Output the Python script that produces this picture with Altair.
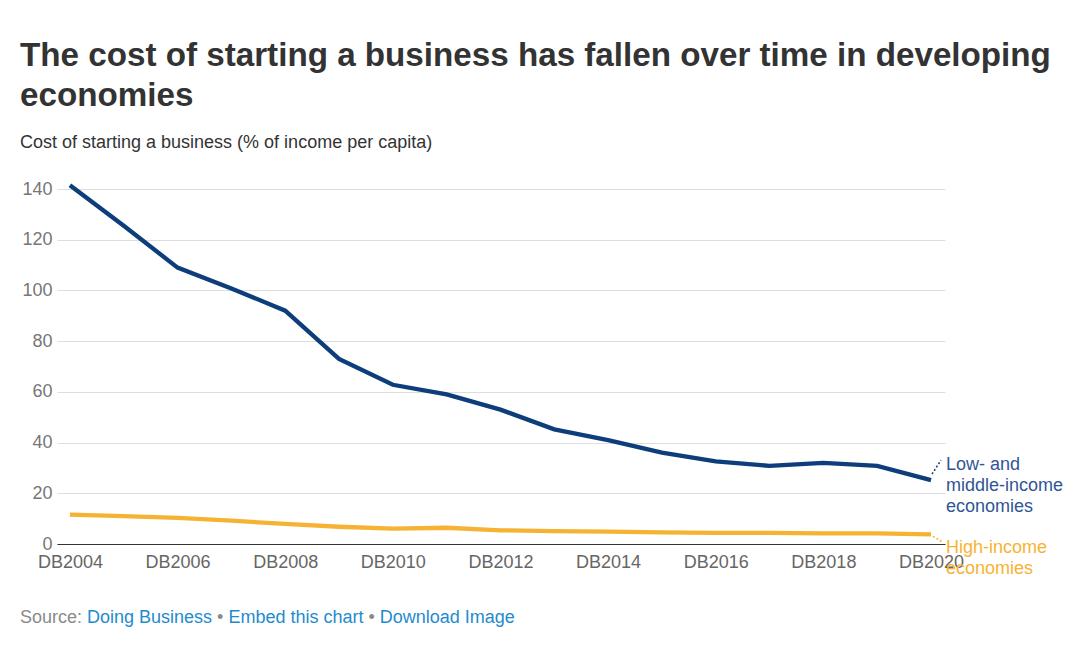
import altair as alt
import pandas as pd

years = list(range(2004, 2021))
low_middle = [141.5, 125.5, 109.0, 100.8, 92.0, 73.0, 62.8, 59.0, 53.0, 45.2, 41.0, 36.0, 32.6, 30.8, 32.0, 30.8, 25.2]
high_income = [11.6, 11.0, 10.3, 9.2, 7.9, 6.8, 6.1, 6.4, 5.4, 5.1, 4.9, 4.6, 4.4, 4.4, 4.2, 4.2, 3.8]
series_names = ["Low- and middle-income economies", "High-income economies"]
tick_years = [2004, 2006, 2008, 2010, 2012, 2014, 2016, 2018, 2020]
y_ticks = [0, 20, 40, 60, 80, 100, 120, 140]

title_lines = ["The cost of starting a business has fallen over time in developing", "economies"]
subtitle = "Cost of starting a business (% of income per capita)"

BLUE = "#0d3d7a"
BLUE_TXT = "#2f5597"
YELLOW = "#f6b333"
FONT = "Liberation Sans"

df = pd.DataFrame({
    "year": years * 2,
    "value": low_middle + high_income,
    "series": [series_names[0]] * len(years) + [series_names[1]] * len(years),
})

W, H = 888, 355

x = alt.X("year:Q",
          scale=alt.Scale(domain=[2003.76, 2020.26], nice=False, zero=False),
          axis=alt.Axis(values=tick_years, format="d", labelExpr="'DB' + datum.value",
                        title=None, grid=False, ticks=False, tickSize=0,
                        domainColor="#333333", domainWidth=1.2,
                        labelFontSize=18, labelColor="#666666", labelFont=FONT,
                        labelPadding=9, labelFlush=False, labelOverlap=False))
y = alt.Y("value:Q",
          scale=alt.Scale(domain=[0, 140], nice=False),
          axis=alt.Axis(values=y_ticks, title=None, grid=True, gridColor="#dddddd",
                        domain=False, ticks=False, tickSize=0,
                        labelFontSize=18, labelColor="#777777", labelFont=FONT,
                        labelPadding=5))

color = alt.Color("series:N", scale=alt.Scale(domain=series_names, range=[BLUE, YELLOW]), legend=None)

lines = alt.Chart(df).mark_line(strokeWidth=4.3, clip=False).encode(x=x, y=y, color=color)

last = df[df["year"] == 2020]
last_blue = last[last["series"] == series_names[0]]
last_yel = last[last["series"] == series_names[1]]

lab_blue = alt.Chart(last_blue).mark_text(
    align="left", baseline="middle", dx=15, dy=-15, fontSize=18, font=FONT,
    color=BLUE_TXT, lineHeight=21, lineBreak="|"
).encode(x="year:Q", y="value:Q", text=alt.value("Low- and|middle-income|economies"))
lab_yel = alt.Chart(last_yel).mark_text(
    align="left", baseline="middle", dx=15, dy=14, fontSize=18, font=FONT,
    color=YELLOW, lineHeight=21, lineBreak="|"
).encode(x="year:Q", y="value:Q", text=alt.value("High-income|economies"))

con_blue = alt.Chart(last_blue).mark_rule(
    color=BLUE, strokeWidth=1.5, strokeDash=[2, 2],
    xOffset=1, yOffset=-6, x2Offset=10, y2Offset=-20
).encode(x="year:Q", y="value:Q", x2="year:Q", y2="value:Q")
con_yel = alt.Chart(last_yel).mark_rule(
    color=YELLOW, strokeWidth=1.5, strokeDash=[2, 2],
    xOffset=2, yOffset=2, x2Offset=12, y2Offset=8
).encode(x="year:Q", y="value:Q", x2="year:Q", y2="value:Q")

src_y = H + 74
src_parts = [
    ("Source:", -37, "left", "#8a8a8a"),
    ("Doing Business", 30, "left", "#1f8bcf"),
    ("\u2022", 163.2, "center", "#8a8a8a"),
    ("Embed this chart", 171.4, "left", "#1f8bcf"),
    ("\u2022", 314.7, "center", "#8a8a8a"),
    ("Download Image", 322.8, "left", "#1f8bcf"),
]
src_layers = []
for txt, px, al, col in src_parts:
    src_layers.append(
        alt.Chart(pd.DataFrame({"t": [txt]})).mark_text(
            align=al, baseline="middle", fontSize=18, font=FONT, color=col
        ).encode(x=alt.value(px), y=alt.value(src_y), text="t:N")
    )

chart = alt.layer(lines, con_blue, con_yel, lab_blue, lab_yel, *src_layers).properties(
    width=W, height=H,
    background="white",
    title=alt.TitleParams(
        text=title_lines, subtitle=subtitle, anchor="start", frame="bounds",
        font=FONT, fontSize=33.2, fontWeight="bold", color="#333333", lineHeight=40,
        subtitleFont=FONT, subtitleFontSize=18, subtitleColor="#333333",
        subtitlePadding=20, offset=24,
    ),
    autosize=alt.AutoSizeParams(type="none"),
    padding={"left": 49, "top": 181, "right": 118, "bottom": 85},
).configure_view(stroke=None, strokeWidth=0)

chart.save("out.html", embed_options={"renderer": "svg", "actions": False})
